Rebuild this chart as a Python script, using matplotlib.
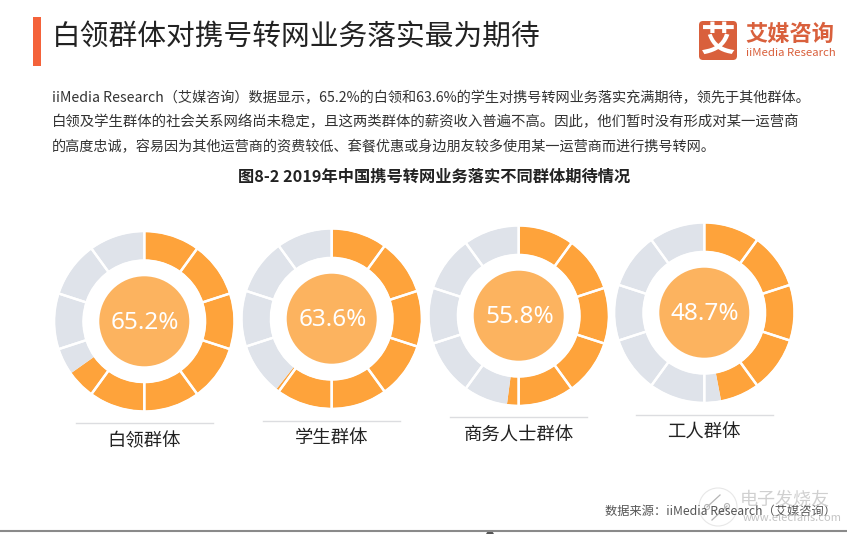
import matplotlib
matplotlib.use('Agg')
import matplotlib.pyplot as plt
from matplotlib.patches import Circle, Rectangle, FancyBboxPatch

plt.rcParams['font.family'] = ['Noto Sans CJK SC', 'DejaVu Sans']

W, H = 847, 534

# Data
groups = ['白领群体', '学生群体', '商务人士群体', '工人群体']
labels = ['65.2%', '63.6%', '55.8%', '48.7%']
# how much of each ring is actually painted orange (differs a bit from the labels)
filled = [65.2, 60.6, 52.1, 47.0]

centers = [(144.3, 321.3), (331.7, 318.7), (518.7, 315.7), (704.3, 312.7)]
label_y = [441, 438, 435.5, 433]
rule_y = [423.3, 421.3, 417.3, 415.3]

title = '白领群体对携号转网业务落实最为期待'
body = [
    'iiMedia Research（艾媒咨询）数据显示，65.2%的白领和63.6%的学生对携号转网业务落实充满期待，领先于其他群体。',
    '白领及学生群体的社会关系网络尚未稳定，且这两类群体的薪资收入普遍不高。因此，他们暂时没有形成对某一运营商',
    '的高度忠诚，容易因为其他运营商的资费较低、套餐优惠或身边朋友较多使用某一运营商而进行携号转网。',
]
heading = '图8-2 2019年中国携号转网业务落实不同群体期待情况'
source = '数据来源：iiMedia Research（艾媒咨询）'

ORANGE = '#fea33b'
GREY = '#dfe3ea'
MIDDLE = '#fcb35f'
RED = '#f4623a'
LOGO = '#d9603c'

R_OUT, R_IN, R_MID = 89, 62, 45

fig = plt.figure(figsize=(W / 100, H / 100), dpi=100)
ax = fig.add_axes([0, 0, 1, 1])


def flip(y):
    return H - y


for group, label, fill, (cx, cy), ly, ry in zip(groups, labels, filled, centers, label_y, rule_y):
    center = (cx, flip(cy))
    # orange part, then the grey rest, clockwise from the top
    ax.pie([fill, 100 - fill], colors=[ORANGE, GREY], center=center, radius=R_OUT,
           startangle=90, counterclock=False, wedgeprops={'width': R_OUT - R_IN})
    # ten equal slices with white outlines make the gaps
    ax.pie([10] * 10, colors=['none'] * 10, center=center, radius=R_OUT + 1.5,
           startangle=90, counterclock=False,
           wedgeprops={'width': R_OUT - R_IN + 3, 'edgecolor': 'white', 'linewidth': 1.7})
    ax.add_patch(Circle(center, R_MID, color=MIDDLE, lw=0))
    ax.text(cx + 1, flip(cy + 1.5), label, color='white', fontsize=17.5, family='Noto Sans',
            ha='center', va='center')
    ax.plot([cx - 68.5, cx + 68.5], [flip(ry), flip(ry)], color='#dcdde0', lw=1)
    ax.text(cx, flip(ly), group, color='#222222', fontsize=13.2, ha='center', va='center')

ax.set_xlim(0, W)
ax.set_ylim(0, H)
ax.set_aspect('equal')
ax.axis('off')

# header
ax.add_patch(Rectangle((33, flip(66)), 7.5, 49, color=RED, lw=0))
ax.text(52, flip(37), title, fontsize=20.7, color='#222222', fontweight='medium', ha='left', va='center')

# logo
ax.add_patch(FancyBboxPatch((701, flip(58)), 34, 35, boxstyle='round,pad=2,rounding_size=4', color=LOGO, lw=0))
ax.text(718, flip(40), '艾', fontsize=25, color='white', fontweight='bold', ha='center', va='center')
ax.text(745, flip(34), '艾媒咨询', fontsize=16, color=LOGO, fontweight='bold', ha='left', va='center')
ax.text(746, flip(53), 'iiMedia Research', fontsize=8.2, color=LOGO, fontweight='medium', ha='left', va='center')

# paragraph
for text, y, size in zip(body, [98, 122, 147], [10.2, 10.37, 10.2]):
    ax.text(52, flip(y), text, fontsize=size, color='#333333', ha='left', va='center')
ax.text(434, flip(177), heading, fontsize=11.7, color='#222222', fontweight='bold', ha='center', va='center')

# source and the site watermark
ax.text(836, flip(511), source, fontsize=8.8, color='#555555', fontweight='medium', ha='right', va='center')
ax.add_patch(Circle((718, flip(507)), 19, facecolor='white', edgecolor='#e4e4e4', alpha=0.88, lw=0.8))
ax.plot([712, 727], [flip(520), flip(506)], color='#b5b5b5', lw=0.9)
ax.plot([707, 720], [flip(507), flip(495)], color='#b5b5b5', lw=0.9)
ax.add_patch(Circle((707, flip(507)), 2.5, facecolor='white', edgecolor='#b5b5b5', lw=0.8))
ax.add_patch(Circle((727, flip(506)), 2.5, facecolor='white', edgecolor='#b5b5b5', lw=0.8))
ax.text(740, flip(499), '电子发烧友', fontsize=13, color='#d0d0d0', style='italic', ha='left', va='center')
ax.text(743, flip(518), 'www.elecfans.com', fontsize=8, color='#c4c4c4', ha='left', va='center')

# cut-off page edge at the bottom
ax.plot([0, W], [flip(531), flip(531)], color='#8a8a8a', lw=1.5)
ax.add_patch(Circle((490, flip(535)), 4, color='#555555', lw=0))

fig.savefig('out.png', dpi=100)
